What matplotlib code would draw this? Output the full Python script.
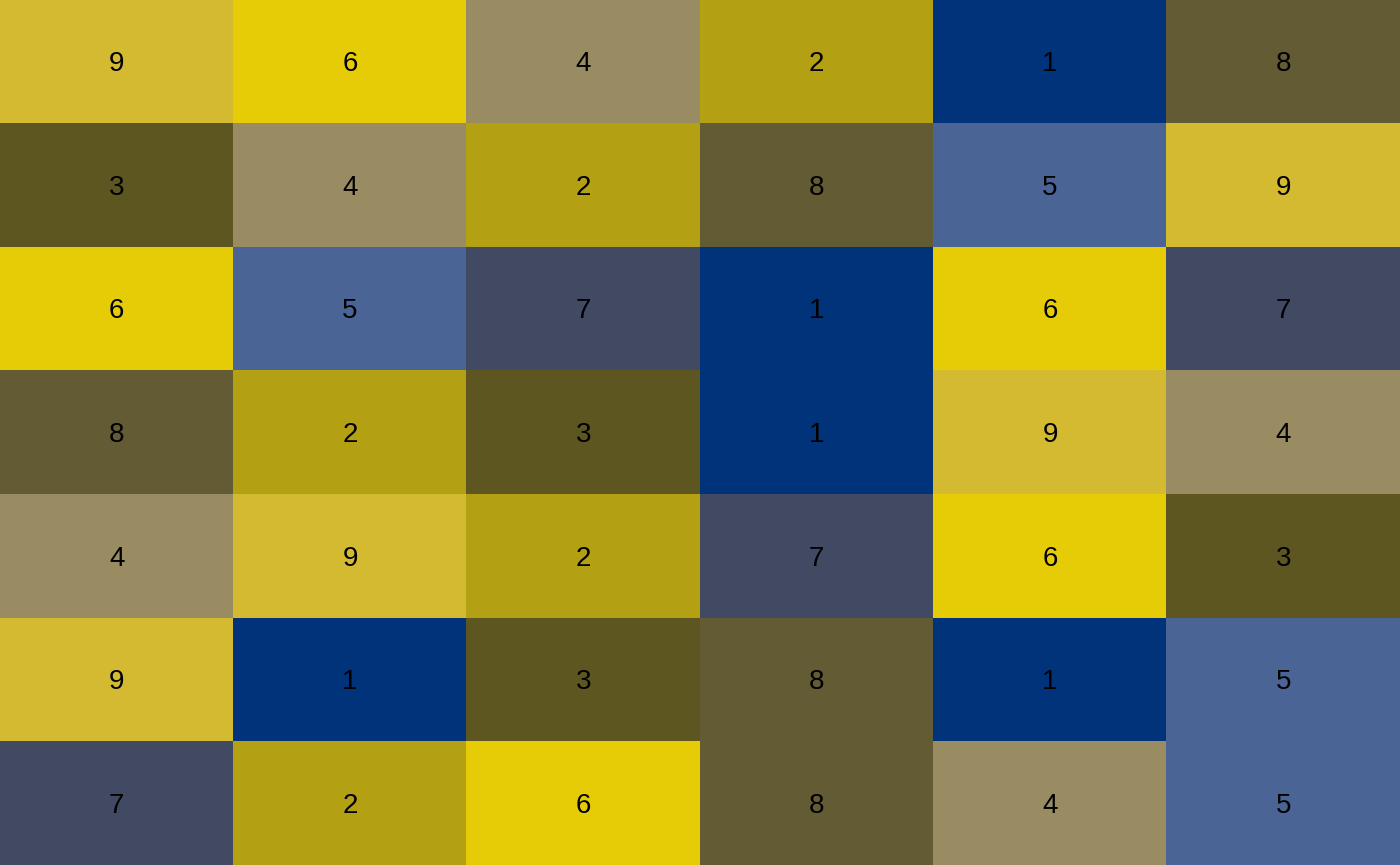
import matplotlib
matplotlib.use("Agg")
import matplotlib.pyplot as plt
from matplotlib.colors import ListedColormap, BoundaryNorm
import numpy as np

grid = [
    [9, 6, 4, 2, 1, 8],
    [3, 4, 2, 8, 5, 9],
    [6, 5, 7, 1, 6, 7],
    [8, 2, 3, 1, 9, 4],
    [4, 9, 2, 7, 6, 3],
    [9, 1, 3, 8, 1, 5],
    [7, 2, 6, 8, 4, 5],
]
levels = [1, 2, 3, 4, 5, 6, 7, 8, 9]
level_colors = ["#00337A", "#B3A013", "#5E5621", "#998C63", "#4A6496",
                "#E6CB07", "#414A62", "#635B33", "#D4BA31"]

data = np.array(grid)
cmap = ListedColormap(level_colors)
norm = BoundaryNorm(np.arange(0.5, 10.5, 1), cmap.N)

fig = plt.figure(figsize=(14, 8.65), dpi=100)
ax = fig.add_axes([0, 0, 1, 1])
ax.imshow(data, cmap=cmap, norm=norm, aspect="auto", interpolation="nearest")
for i in range(data.shape[0]):
    for j in range(data.shape[1]):
        ax.text(j, i + 0.02, str(data[i, j]), ha="center", va="center",
                fontsize=20, color="black", family=["Liberation Sans", "DejaVu Sans"])
ax.set_axis_off()
fig.savefig("out.png", dpi=100)
